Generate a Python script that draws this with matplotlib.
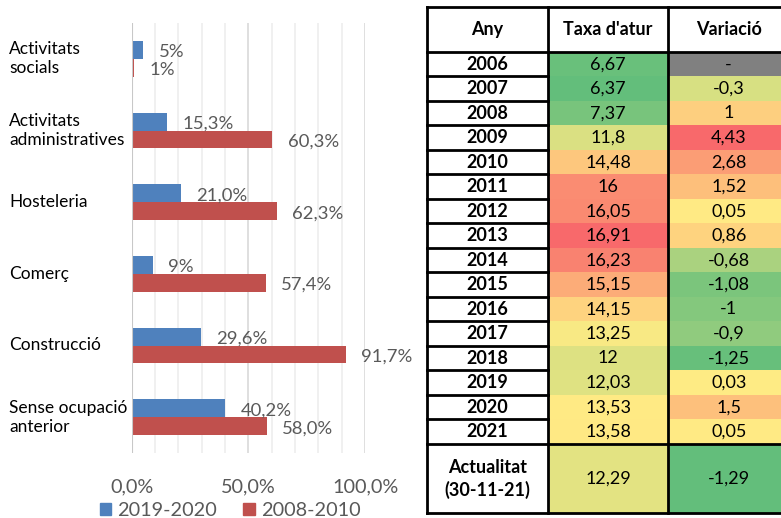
import matplotlib
matplotlib.use("Agg")
import matplotlib.pyplot as plt
import numpy as np
from matplotlib.patches import Rectangle, Patch
from matplotlib.colors import LinearSegmentedColormap, TwoSlopeNorm

plt.rcParams['font.family'] = ['Lato', 'DejaVu Sans']

# ---------------- data ----------------
categories = ["Activitats\nsocials", "Activitats\nadministratives", "Hosteleria",
              "Comerç", "Construcció", "Sense ocupació\nanterior"]
val_2019_2020 = [5.0, 15.3, 21.0, 9.0, 29.6, 40.2]
val_2008_2010 = [1.0, 60.3, 62.3, 57.4, 91.7, 58.0]
lab_2019_2020 = ["5%", "15,3%", "21,0%", "9%", "29,6%", "40,2%"]
lab_2008_2010 = ["1%", "60,3%", "62,3%", "57,4%", "91,7%", "58,0%"]
series_names = ["2019-2020", "2008-2010"]
xticks = [0, 50, 100]
xtick_labels = ["0,0%", "50,0%", "100,0%"]

col_headers = ["Any", "Taxa d'atur", "Variació"]
years = ["2006", "2007", "2008", "2009", "2010", "2011", "2012", "2013",
         "2014", "2015", "2016", "2017", "2018", "2019", "2020", "2021",
         "Actualitat\n(30-11-21)"]
taxa = [6.67, 6.37, 7.37, 11.8, 14.48, 16, 16.05, 16.91, 16.23, 15.15,
        14.15, 13.25, 12, 12.03, 13.53, 13.58, 12.29]
variacio = [None, -0.3, 1, 4.43, 2.68, 1.52, 0.05, 0.86, -0.68, -1.08,
            -1, -0.9, -1.25, 0.03, 1.5, 0.05, -1.29]

# ---------------- figure ----------------
W, H = 781, 518
fig = plt.figure(figsize=(W / 100, H / 100), dpi=100)

BLUE = "#4F81BD"
RED = "#C0504D"
GRAY_TXT = "#595959"

ax = fig.add_axes([131.7 / W, (H - 453) / H, 233.3 / W, 430 / H])
y = np.arange(len(categories))
bh = 0.25
ax.barh(y - bh / 2, val_2019_2020, height=bh, color=BLUE, zorder=3)
ax.barh(y + bh / 2, val_2008_2010, height=bh, color=RED, zorder=3)
ax.set_xlim(0, 100)
ax.set_ylim(len(categories) - 0.5, -0.5)

for xv in np.arange(10, 101, 10):
    c = "#D9D9D9" if xv % 50 == 0 else "#EDEDED"
    ax.axvline(xv, color=c, lw=1.2, zorder=1)
ax.axvline(0, color="#C8C8C8", lw=1.5, zorder=4)

for s in ax.spines.values():
    s.set_visible(False)
ax.set_yticks([])
ax.set_xticks(xticks)
ax.set_xticklabels(xtick_labels, fontsize=14.3, color=GRAY_TXT)
ax.tick_params(axis='x', length=0, pad=18)

for i, (v, l) in enumerate(zip(val_2019_2020, lab_2019_2020)):
    ax.annotate(l, (v, i - bh / 2), xytext=(11, -1.5), textcoords="offset points",
                va="center", ha="left", fontsize=13.3, color=GRAY_TXT)
for i, (v, l) in enumerate(zip(val_2008_2010, lab_2008_2010)):
    ax.annotate(l, (v, i + bh / 2), xytext=(11, -1.5), textcoords="offset points",
                va="center", ha="left", fontsize=13.3, color=GRAY_TXT)

for i, c in enumerate(categories):
    ax.text(-122.3 / 233.3 * 100, i, c, ha="left", va="center", fontsize=12.5,
            color="#000000", linespacing=1.25, clip_on=False)

handles = [Patch(color=BLUE), Patch(color=RED)]
fig.legend(handles, series_names, loc="center", bbox_to_anchor=(230 / W, 7.5 / H),
           ncol=2, frameon=False, fontsize=14.3, labelcolor=GRAY_TXT,
           handlelength=0.6, handleheight=0.6, handletextpad=0.3,
           columnspacing=1.3, borderpad=0)

# ---------------- table ----------------
cmap = LinearSegmentedColormap.from_list("xl", ["#63BE7B", "#FFEB84", "#F8696B"])
tx = np.array(taxa, dtype=float)
norm_t = TwoSlopeNorm(vmin=tx.min(), vcenter=np.median(tx), vmax=tx.max())
vv = np.array([v for v in variacio if v is not None], dtype=float)
norm_v = TwoSlopeNorm(vmin=vv.min(), vcenter=np.median(vv), vmax=vv.max())

colw = 120.7
x0 = 427
tab_top = 6.7
hdr_h = 45.0
row_h = 24.5
last_h = 69.0
total_h = hdr_h + row_h * (len(years) - 1) + last_h
axt = fig.add_axes([x0 / W, (H - tab_top - total_h) / H, 3 * colw / W, total_h / H])
axt.set_xlim(0, 3)
axt.set_ylim(total_h, 0)
axt.axis("off")

def fmt(v):
    return f"{v:g}".replace(".", ",")

tops = [hdr_h + row_h * k for k in range(len(years))]
heights = [row_h] * (len(years) - 1) + [last_h]

fs = 13
for j, h in enumerate(col_headers):
    axt.text(j + 0.5, hdr_h / 2, h, ha="center", va="center", fontsize=fs,
             fontweight="bold", clip_on=False)

for k, (yr, t, v) in enumerate(zip(years, taxa, variacio)):
    top, hh = tops[k], heights[k]
    axt.add_patch(Rectangle((1, top), 1, hh, facecolor=cmap(norm_t(t)),
                            edgecolor="none", clip_on=False))
    vc = "#808080" if v is None else cmap(norm_v(v))
    axt.add_patch(Rectangle((2, top), 1, hh, facecolor=vc,
                            edgecolor="none", clip_on=False))
    cy = top + hh / 2 + 0.5
    axt.text(0.5, cy, yr, ha="center", va="center", fontsize=fs,
             fontweight="bold", linespacing=1.3, clip_on=False)
    axt.text(1.5, cy, fmt(t), ha="center", va="center", fontsize=fs, clip_on=False)
    axt.text(2.5, cy, "-" if v is None else fmt(v), ha="center", va="center",
             fontsize=fs, clip_on=False)

LW = 2.0
kw = dict(color="black", lw=LW, clip_on=False, solid_capstyle="projecting")
for xv in [0, 1, 2, 3]:
    axt.plot([xv, xv], [0, total_h], **kw)
for yv in [0, hdr_h, tops[-1], total_h]:
    axt.plot([0, 3], [yv, yv], **kw)
for yv in tops[1:-1]:
    axt.plot([0, 1], [yv, yv], **kw)

fig.savefig("out.png", dpi=100)
